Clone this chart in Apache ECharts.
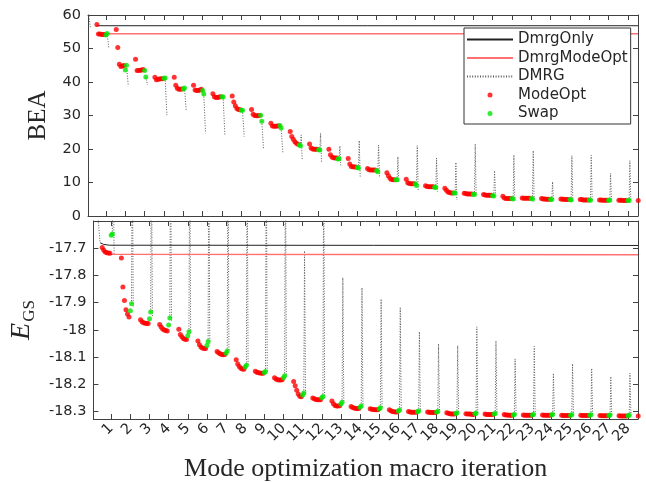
<!DOCTYPE html>
<html><head><meta charset="utf-8">
<script src="https://cdn.jsdelivr.net/npm/echarts@6/dist/echarts.min.js"></script>
<style>html,body{margin:0;padding:0;background:#fff}#c{width:646px;height:483px}</style>
</head><body><div id="c"></div>
<script>
// ---------------- data ----------------
const macroIters = [1,2,3,4,5,6,7,8,9,10,11,12,13,14,15,16,17,18,19,20,21,22,23,24,25,26,27,28];
const beaTicks = [0,10,20,30,40,50,60];
const eTicks = [-18.3,-18.2,-18.1,-18,-17.9,-17.8,-17.7];

// ModeOpt points (per macro iteration, BEA)
const beaModeOpt = [
  [57.2,54.3,54.3,54.2,54.2,54.2],[55.7,50.3,45.3,44.6,44.8,44.9],[46.8,43.4,43.4,43.5,43.6,43.7],
  [41.4,40.7,40.8,40.9,41.0,41.0],[41.4,39.0,38.1,37.8,37.8,37.9],[39.0,37.6,37.5,37.5,37.6,37.8],
  [36.5,35.6,35.4,35.4,35.5,35.6],[35.8,34.0,32.9,32.1,31.8,31.7],[31.8,30.4,30.0,29.9,29.9,30.0],
  [27.7,26.9,26.8,26.8,26.9,26.9],[25.2,23.7,22.9,22.2,21.7,21.4],[21.5,20.3,20.0,19.9,19.9,19.9],
  [19.9,18.3,17.6,17.4,17.3,17.3],[17.2,15.5,14.8,14.7,14.6,14.6],[14.2,13.8,13.7,13.7,13.7,13.7],
  [12.9,12.0,11.3,10.9,10.8,10.8],[11.0,9.9,9.7,9.6,9.6,9.6],[9.0,8.8,8.7,8.7,8.7,8.7],
  [8.3,7.7,7.2,7.0,6.9,6.9],[6.8,6.7,6.6,6.6,6.6,6.6],[6.4,6.3,6.2,6.2,6.2,6.2],
  [5.9,5.4,5.2,5.2,5.2,5.2],[5.4,5.3,5.3,5.3,5.3,5.3],[5.2,5.1,5.1,5.0,5.0,5.0],
  [5.1,5.0,5.0,4.9,4.9,4.9],[4.9,4.9,4.8,4.8,4.8,4.8],[4.8,4.8,4.7,4.7,4.7,4.7],
  [4.7,4.7,4.7,4.6,4.6,4.6],[4.6]
];
// Swap points (BEA)
const beaSwap = [
  [54.0,54.5],[43.6,45.0],[43.4,41.5],[41.1,41.2],[37.9,38.2],[37.5,36.4],[35.6,35.5],[31.6,31.6],
  [30.1,28.3],[27.0,26.3],[21.2,21.0],[19.8,19.7],[17.0,17.1],[14.5,14.3],[13.6,13.2],[10.8,10.8],
  [9.6,9.1],[8.6,8.5],[6.9,6.9],[6.5,6.4],[6.1,6.0],[5.2,5.1],[5.2,5.1],[5.0,4.9],[4.9,4.8],
  [4.8,4.7],[4.7,4.7],[4.6,4.6]
];
// DMRG sweep extremes after each macro iteration (BEA)
const beaDmrgStartX = [0.1,0.2];
const beaDmrgStart = [60.5,56.0];
const beaDmrgHi = [54.5,45.0,41.5,41.2,38.2,36.4,35.5,31.6,28.3,26.3,24.2,24.7,20.9,22.5,21.2,17.7,21.0,17.3,16.0,21.5,13.5,18.2,19.5,10.2,18.0,18.1,12.7,16.5];
const beaDmrgLo = [50.0,39.1,39.1,30.1,31.6,24.7,24.2,23.7,19.9,18.9,16.9,16.2,14.7,11.7,11.7,9.9,7.3,7.3,4.8,6.3,6.3,4.3,4.3,4.8,4.3,4.3,4.3,4.3];
// reference lines (BEA)
const beaDmrgOnlyX = [0.5,28.52];
const beaDmrgOnly = [56.8,56.8];
const beaDmrgModeOptX = [0.55,28.52];
const beaDmrgModeOpt = [54.4,54.4];

// ModeOpt points (E_GS)
const eModeOpt = [
  [-17.697,-17.708,-17.714,-17.717,-17.718,-17.719],[-17.736,-17.843,-17.892,-17.926,-17.942,-17.953],
  [-17.963,-17.970,-17.974,-17.976,-17.977,-17.977],[-17.981,-17.990,-17.997,-18.001,-18.003,-18.004],
  [-17.998,-18.017,-18.026,-18.032,-18.035,-18.036],[-18.041,-18.055,-18.063,-18.067,-18.069,-18.069],
  [-18.080,-18.084,-18.088,-18.091,-18.092,-18.091],[-18.110,-18.126,-18.135,-18.141,-18.144,-18.145],
  [-18.152,-18.156,-18.158,-18.159,-18.160,-18.160],[-18.176,-18.181,-18.184,-18.185,-18.185,-18.184],
  [-18.190,-18.206,-18.222,-18.236,-18.244,-18.246],[-18.251,-18.254,-18.256,-18.257,-18.257,-18.257],
  [-18.262,-18.272,-18.278,-18.280,-18.280,-18.279],[-18.282,-18.286,-18.288,-18.289,-18.289,-18.289],
  [-18.290,-18.292,-18.293,-18.294,-18.294,-18.294],[-18.294,-18.298,-18.300,-18.301,-18.302,-18.302],
  [-18.300,-18.302,-18.303,-18.303,-18.303,-18.303],[-18.302,-18.303,-18.304,-18.304,-18.304,-18.304],
  [-18.305,-18.307,-18.309,-18.310,-18.310,-18.310],[-18.309,-18.310,-18.310,-18.310,-18.311,-18.311],
  [-18.310,-18.311,-18.311,-18.311,-18.311,-18.311],[-18.311,-18.313,-18.313,-18.314,-18.314,-18.314],
  [-18.313,-18.314,-18.314,-18.314,-18.314,-18.314],[-18.313,-18.314,-18.314,-18.314,-18.314,-18.314],
  [-18.314,-18.315,-18.315,-18.315,-18.315,-18.315],[-18.314,-18.315,-18.315,-18.315,-18.315,-18.315],
  [-18.315,-18.316,-18.316,-18.316,-18.316,-18.316],[-18.316,-18.317,-18.317,-18.317,-18.317,-18.317],
  [-18.317]
];
// Swap points (E_GS)
const eSwap = [
  [-17.652,-17.648],[-17.930,-17.904],[-17.959,-17.935],[-17.982,-17.957],[-18.022,-18.007],
  [-18.058,-18.043],[-18.086,-18.078],[-18.137,-18.130],[-18.157,-18.153],[-18.176,-18.169],
  [-18.240,-18.232],[-18.250,-18.245],[-18.273,-18.266],[-18.285,-18.280],[-18.291,-18.287],
  [-18.299,-18.295],[-18.301,-18.299],[-18.302,-18.300],[-18.308,-18.306],[-18.309,-18.307],
  [-18.310,-18.308],[-18.313,-18.311],[-18.313,-18.311],[-18.313,-18.311],[-18.314,-18.312],
  [-18.314,-18.312],[-18.315,-18.313],[-18.316,-18.314]
];
// DMRG sweep extremes (E_GS); values above -17.6 run off the top of the panel
const eDmrgStartX = [0.2,0.42];
const eDmrgStart = [-17.5,-17.68];
const eDmrgHi = [-17.3,-17.3,-17.3,-17.3,-17.3,-17.3,-17.3,-17.3,-17.3,-17.3,-17.71,-17.3,
  -17.808,-17.845,-17.887,-17.917,-18.007,-18.052,-18.058,-17.989,-18.041,-18.107,-18.061,-18.160,-18.125,-18.142,-18.172,-18.160];
const eDmrgLo = [-17.72,-17.92,-17.95,-17.97,-18.01,-18.05,-18.08,-18.13,-18.15,-18.17,-18.236,-18.25,
  -18.265,-18.28,-18.288,-18.296,-18.30,-18.30,-18.306,-18.307,-18.308,-18.311,-18.311,-18.311,-18.312,-18.312,-18.313,-18.314];
// reference lines (E_GS)
const eDmrgOnlyX = [0.42,0.6,0.9,28.52];
const eDmrgOnly = [-17.680,-17.686,-17.689,-17.690];
const eDmrgModeOptX = [0.5,0.7,1.0,28.52];
const eDmrgModeOpt = [-17.700,-17.716,-17.722,-17.724];

// ---------------- build ----------------
const X_MIN = 0.07, X_MAX = 28.52;
function modeOptPts(rows){const o=[];rows.forEach((r,i)=>{const k=i+1;r.forEach((v,j)=>o.push([k-0.47+j*0.08,v]));});return o;}
function swapPts(rows){const o=[];rows.forEach((r,i)=>{const k=i+1;r.forEach((v,j)=>o.push([k+j*0.06,v]));});return o;}
function dmrgPts(sx,sy,swapRows,hi,lo){
  const o=[];sx.forEach((x,i)=>o.push([x,sy[i]]));o.push([sx[sx.length-1]+0.01,'-']);
  hi.forEach((h,i)=>{const k=i+1;const sw=swapRows[i];
    o.push([k+0.06,sw[sw.length-1]]);o.push([k+0.1,h]);o.push([k+0.15,lo[i]]);o.push([k+0.16,'-']);});
  return o;
}
function zip(xs,ys){return xs.map((x,i)=>[x,ys[i]]);}

const AX = '#404040', TXT = '#262626';
const tickFont = {fontFamily:'DejaVu Sans',fontSize:14.5,color:TXT};
const labelSet = new Set(macroIters);
function xAxis(grid,pos,labels){
  return {type:'value',gridIndex:grid,position:pos,min:X_MIN,max:X_MAX,
    axisLine:{show:true,onZero:false,lineStyle:{color:AX,width:1}},
    axisTick:{show:true,inside:true,length:5,customValues:macroIters,lineStyle:{color:AX}},
    axisLabel:labels?Object.assign({show:true,rotate:45,margin:7,hideOverlap:false,
      customValues:macroIters.concat([X_MAX]),
      formatter:v=>{const r=Math.round(v);return (labelSet.has(r)&&Math.abs(v-r)<1e-6)?String(r):'';}},tickFont):{show:false},
    splitLine:{show:false}};
}
function yAxis(grid,pos,min,max,ticks,labels,name){
  const a={type:'value',gridIndex:grid,position:pos,min:min,max:max,
    axisLine:{show:true,onZero:false,lineStyle:{color:AX,width:1}},
    axisTick:{show:true,inside:true,length:5,customValues:ticks,lineStyle:{color:AX}},
    axisLabel:labels?Object.assign({show:true,margin:7,showMinLabel:true,showMaxLabel:true,customValues:ticks,
      formatter:v=>String(+(+v).toFixed(1))},tickFont):{show:false},
    splitLine:{show:false}};
  if(name) Object.assign(a,name);
  return a;
}

const hideSym = {opacity:0};
const option = {
  animation:false,
  backgroundColor:'#fff',
  grid:[{left:88,right:8,top:15,height:201},{left:88,right:8,top:221,height:201}],
  xAxis:[xAxis(0,'bottom',false),xAxis(0,'top',false),
    Object.assign(xAxis(1,'bottom',true),{name:'Mode optimization macro iteration',nameLocation:'middle',nameGap:37,
      nameTextStyle:{fontFamily:'Liberation Serif',fontSize:26,color:TXT}}),
    xAxis(1,'top',false)],
  yAxis:[
    yAxis(0,'left',0,60,beaTicks,true,{name:'BEA',nameLocation:'middle',nameGap:37,nameRotate:90,
      nameTextStyle:{fontFamily:'Liberation Serif',fontSize:25,color:TXT}}),
    yAxis(0,'right',0,60,beaTicks,false),
    yAxis(1,'left',-18.328,-17.60,eTicks,true,{name:'{e|E}{s|GS}',nameLocation:'middle',nameGap:54,nameRotate:90,
      nameTextStyle:{rich:{e:{fontFamily:'Liberation Serif',fontStyle:'italic',fontSize:28,color:TXT,verticalAlign:'bottom',padding:[0,1,2,0]},
        s:{fontFamily:'Liberation Serif',fontSize:17,color:TXT,verticalAlign:'bottom'}}}}),
    yAxis(1,'right',-18.328,-17.60,eTicks,false)
  ],
  legend:{data:[{name:'DmrgOnly',itemStyle:hideSym},{name:'DmrgModeOpt',itemStyle:hideSym},{name:'DMRG',itemStyle:hideSym},'ModeOpt','Swap'],
    orient:'vertical',left:464,top:28,
    itemWidth:46,itemHeight:5,itemGap:3.5,padding:[4,3,3,2],selectedMode:false,
    backgroundColor:'#fff',borderColor:'#333',borderWidth:1,borderRadius:0,
    textStyle:{fontFamily:'DejaVu Sans',fontSize:15,color:TXT}},
  series:[]
};

const panels = [
  {xa:0,ya:0,mo:beaModeOpt,sw:beaSwap,ds:[beaDmrgStartX,beaDmrgStart],hi:beaDmrgHi,lo:beaDmrgLo,
   only:zip(beaDmrgOnlyX,beaDmrgOnly),mopt:zip(beaDmrgModeOptX,beaDmrgModeOpt)},
  {xa:2,ya:2,mo:eModeOpt,sw:eSwap,ds:[eDmrgStartX,eDmrgStart],hi:eDmrgHi,lo:eDmrgLo,
   only:zip(eDmrgOnlyX,eDmrgOnly),mopt:zip(eDmrgModeOptX,eDmrgModeOpt)}
];
panels.forEach(p=>{
  option.series.push(
    {name:'DmrgOnly',type:'line',xAxisIndex:p.xa,yAxisIndex:p.ya,symbol:'none',z:2,
     itemStyle:{color:'#111111'},lineStyle:{color:'#222222',width:1},data:p.only},
    {name:'DmrgModeOpt',type:'line',xAxisIndex:p.xa,yAxisIndex:p.ya,symbol:'none',z:2,
     itemStyle:{color:'#ff7070'},lineStyle:{color:'#ff7070',width:1.5},data:p.mopt},
    {name:'DMRG',type:'line',xAxisIndex:p.xa,yAxisIndex:p.ya,symbol:'none',connectNulls:false,z:1,
     itemStyle:{color:'#5a5a5a'},lineStyle:{color:'#5a5a5a',width:1,type:[1,1.6]},data:dmrgPts(p.ds[0],p.ds[1],p.sw,p.hi,p.lo)},
    {name:'ModeOpt',type:'scatter',xAxisIndex:p.xa,yAxisIndex:p.ya,symbol:'circle',symbolSize:5,clip:false,z:3,
     itemStyle:{color:'#ff0000'},data:modeOptPts(p.mo)},
    {name:'Swap',type:'scatter',xAxisIndex:p.xa,yAxisIndex:p.ya,symbol:'circle',symbolSize:5,z:4,
     itemStyle:{color:'#00e600'},data:swapPts(p.sw)}
  );
});

const chart = echarts.init(document.getElementById('c'),null,{renderer:'canvas'});
chart.setOption(option);
</script></body></html>
